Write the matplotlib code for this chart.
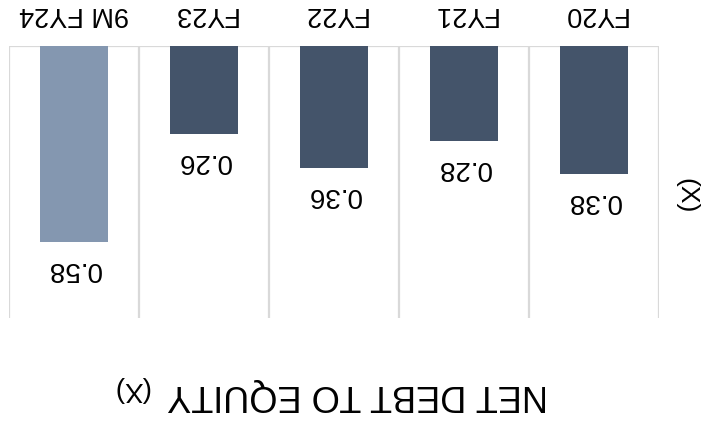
import matplotlib
matplotlib.use("Agg")
import matplotlib.pyplot as plt
import matplotlib.transforms as mtransforms
import numpy as np

plt.rcParams['font.family'] = ['Liberation Sans', 'DejaVu Sans']

# data (chart is shown rotated by 180 degrees)
categories = ['FY20', 'FY21', 'FY22', 'FY23', '9M FY24']
values = [0.38, 0.28, 0.36, 0.26, 0.58]
value_labels = ['0.38', '0.28', '0.36', '0.26', '0.58']
bar_colors = ['#44546a', '#44546a', '#44546a', '#44546a', '#8497b0']
title = 'NET DEBT TO EQUITY'
unit = '(X)'

fig = plt.figure(figsize=(7.05, 4.22), dpi=100)
ax = fig.add_axes([9 / 705, 1 - 318 / 422, 650 / 705, 272 / 422])

x = np.arange(len(categories))
ax.bar(x, values, width=0.525, color=bar_colors, zorder=2)

# upside down: first category on the right, zero on top
ax.set_xlim(len(categories) - 0.5, -0.5)
ax.set_ylim(0.805, 0)

grid_col = '#d9d9d9'
for xv in np.arange(-0.5, len(categories), 1.0):
    ax.axvline(xv, color=grid_col, lw=1.6, zorder=1)
ax.axhline(0, color=grid_col, lw=1.6, zorder=1)

for s in ax.spines.values():
    s.set_visible(False)
ax.set_xticks([])
ax.set_yticks([])

# value labels under the bars
for xi, v, lab in zip(x, values, value_labels):
    ax.annotate(lab, (xi, v), xytext=(0, -27 * 72 / 100), textcoords='offset points',
                rotation=180, ha='center', va='center', fontsize=20, color='black')

# category labels above the plot
trans = mtransforms.blended_transform_factory(ax.transData, ax.transAxes)
for xi, cat in zip(x, categories):
    ax.text(xi, 1 + 32 / 272, cat, transform=trans, rotation=180,
            ha='center', va='center', fontsize=19.5, color='black')

# axis unit and title
fig.text(686 / 705, 1 - 196 / 422, unit, rotation=270, ha='center', va='center',
         fontsize=19, color='black')
fig.text(358 / 705, 1 - 395 / 422, title, rotation=180, ha='center', va='center',
         fontsize=26, color='black')
fig.text(131 / 705, 1 - 389 / 422, unit, rotation=180, ha='center', va='center',
         fontsize=20, color='black')

fig.savefig('out.png', dpi=100)
